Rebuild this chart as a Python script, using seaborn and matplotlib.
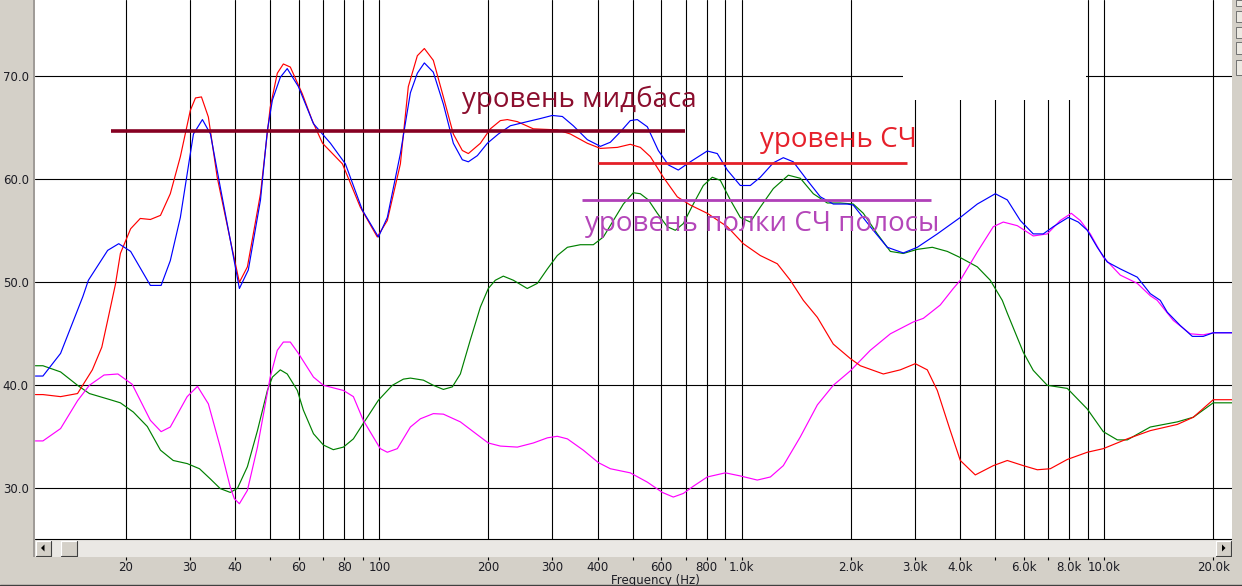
import numpy as np
import pandas as pd
import matplotlib
matplotlib.use("Agg")
import matplotlib.pyplot as plt
from matplotlib.patches import Rectangle, Polygon
from matplotlib.lines import Line2D
from matplotlib.ticker import NullLocator
import seaborn as sns

# ---------------- data (frequency in Hz, level in dB) ----------------
blue_f = [11.25, 11.8, 13.2, 15.2, 15.75, 17.8, 19.1, 20.6, 23.35, 25.0, 26.5, 28.25, 30.1, 30.7, 32.5, 34.2,
          36.4, 38.8, 41.1, 43.5, 47.0, 49.1, 50.7, 53.3, 55.7, 59.8, 65.8, 73.3, 80.6, 89.8, 99.4, 105.2,
          114.3, 121.8, 127.3, 133.1, 140.9, 150.2, 160, 169.4, 176, 186.4, 198.6, 213, 229.8, 255.9, 278,
          300, 319.8, 342.8, 374.8, 407.3, 433.8, 462.2, 492.4, 514.8, 548.7, 588.3, 627, 668, 721, 803,
          855.7, 912, 990.6, 1055.5, 1124.6, 1221.6, 1301.6, 1386.8, 1516, 1647, 1788, 1954, 2030, 2262,
          2520, 2790, 3049, 3462, 4007, 4464, 5004, 5401, 5866, 6369, 6787, 7233, 7956, 8478, 8977, 9565,
          10193, 11070, 12331, 13394, 14272, 14920, 16209, 17494, 18750, 19980, 22500]
blue_db = [40.9, 40.9, 43.1, 48.6, 50.2, 53.1, 53.75, 53.0, 49.7, 49.7, 52.1, 56.3, 62.5, 64.4, 65.8, 64.4,
           59.25, 54.1, 49.4, 51.2, 58.0, 64.75, 67.7, 69.9, 70.75, 69.0, 65.4, 63.5, 61.5, 57.0, 54.4, 56.3,
           62.5, 68.4, 70.3, 71.3, 70.4, 67.3, 63.5, 61.9, 61.7, 62.3, 63.5, 64.4, 65.2, 65.6, 65.9,
           66.2, 66.1, 65.2, 63.85, 63.2, 63.6, 64.6, 65.7, 65.8, 65.1, 62.8, 61.4, 60.9, 61.7, 62.75,
           62.5, 60.9, 59.4, 59.4, 60.2, 61.6, 62.1, 61.7, 59.9, 58.3, 57.6, 57.6, 57.5, 55.4,
           53.4, 52.85, 53.4, 54.7, 56.3, 57.6, 58.6, 58.0, 56.0, 54.7, 54.7, 55.4, 56.3, 55.85, 55.05, 53.4,
           51.97, 51.3, 50.5, 48.9, 48.25, 47.1, 45.8, 44.75, 44.75, 45.1, 45.1]

red_f = [11.25, 11.8, 13.2, 14.7, 16.15, 17.15, 17.8, 18.7, 19.3, 20.6, 21.9, 23.35, 24.9, 26.5, 28.25, 30.1,
         31.1, 32.3, 33.75, 35.7, 38.8, 41.1, 43.25, 47.0, 50.0, 52.3, 54.35, 56.8, 61.3, 65.3, 69.7, 79.1,
         88.6, 98.7, 105.2, 114.3, 120.2, 127.3, 133.1, 140.9, 150.2, 160, 169.4, 176, 190, 202.4, 215.7,
         225.5, 240.3, 266, 309.7, 336.5, 374.8, 407.3, 453.5, 492.4, 524.8, 559.4, 607.5, 663.7, 721, 803,
         912, 1009.6, 1124.6, 1253, 1360.8, 1478, 1616, 1788, 1992, 2123, 2457, 2736, 3010, 3249, 3462,
         3760, 4007, 4407, 4941, 5401, 5980, 6536, 7096, 7906, 8977, 9937, 11573, 13394, 15902, 17604,
         19980, 22500]
red_db = [39.1, 39.1, 38.9, 39.2, 41.5, 43.7, 46.3, 49.8, 52.8, 55.2, 56.2, 56.1, 56.5, 58.6, 62.2, 66.7,
          67.9, 68.0, 66.05, 60.2, 54.1, 50.0, 51.5, 58.6, 67.0, 70.3, 71.2, 70.9, 68.3, 65.7, 63.5, 61.5,
          57.3, 54.4, 56.0, 61.5, 69.0, 72.0, 72.7, 71.55, 68.0, 64.4, 62.8, 62.5, 63.5, 64.9, 65.7,
          65.8, 65.6, 64.9, 64.8, 64.4, 63.5, 63.0, 63.1, 63.4, 63.1, 62.2, 60.2, 58.3, 57.5, 56.7,
          55.4, 53.75, 52.6, 51.8, 50.2, 48.25, 46.6, 44.0, 42.6, 41.9, 41.1, 41.5, 42.1, 41.5, 39.5,
          35.6, 32.7, 31.3, 32.2, 32.7, 32.2, 31.8, 31.9, 32.8, 33.5, 33.85, 34.8, 35.6, 36.2, 36.9,
          38.6, 38.6]

green_f = [11.25, 11.8, 13.2, 14.7, 15.85, 18.1, 19.3, 20.96, 22.9, 24.9, 27.0, 29.5, 31.9, 34.2, 36.4, 38.8,
           40.6, 43.25, 46.1, 49.1, 50.7, 53.3, 55.7, 59.4, 61.7, 65.8, 70.1, 74.65, 79.6, 84.8, 90.3, 99.4,
           108.6, 116.5, 121.8, 132.3, 140.9, 150.2, 159, 167.3, 178.2, 190, 199.8, 208.9, 219.8, 234.3,
           255.9, 272.9, 290.8, 309.7, 330.2, 358.5, 389.4, 415, 442.2, 471.2, 502, 524.8, 552.3, 584.8,
           623, 655.5, 689.6, 734.9, 783.1, 829, 872.4, 929.6, 990.6, 1055.5, 1124.6, 1221.6, 1344,
           1450.5, 1575, 1721.5, 1869, 2030, 2164, 2365, 2569, 2790, 3049, 3354, 3689, 4007, 4464, 4847,
           5231, 5401, 5980, 6369, 6962, 7906, 8977, 9937, 10864, 11573, 13394, 15902, 17604, 19980, 22500]
green_db = [41.9, 41.9, 41.3, 40.0, 39.2, 38.6, 38.3, 37.4, 36.0, 33.7, 32.7, 32.4, 31.9, 30.9, 29.97, 29.6,
            30.0, 32.1, 35.6, 39.5, 40.8, 41.5, 41.1, 39.5, 37.6, 35.3, 34.2, 33.75, 34.0, 34.8, 36.3, 38.55,
            40.0, 40.6, 40.7, 40.5, 40.0, 39.6, 39.85, 41.1, 44.4, 47.6, 49.4, 50.2, 50.6, 50.2,
            49.4, 49.9, 51.3, 52.6, 53.4, 53.65, 53.65, 54.4, 56.0, 57.6, 58.7, 58.6, 58.0, 56.7,
            55.4, 55.05, 55.7, 57.6, 59.4, 60.2, 59.9, 58.0, 56.3, 55.85, 57.3, 59.1, 60.4,
            60.1, 58.6, 57.7, 57.7, 57.6, 56.7, 54.7, 53.0, 52.8, 53.2, 53.4, 53.0, 52.4, 51.5, 50.2,
            48.25, 47.0, 43.2, 41.45, 40.0, 39.7, 37.7, 35.5, 34.7, 34.7, 35.95, 36.45, 36.9, 38.3, 38.3]

magenta_f = [11.25, 11.8, 13.2, 14.7, 15.85, 17.4, 19.0, 20.8, 23.35, 25.0, 26.5, 29.5, 31.5, 33.75, 36.4,
             38.8, 39.8, 41.1, 43.25, 46.1, 50.0, 52.3, 54.35, 56.8, 59.8, 65.8, 70.1, 79.6, 84.8, 90.3,
             100.6, 105.2, 112.1, 121.8, 129.8, 140.9, 150.2, 167.3, 181.6, 199.8, 215.7, 240.3, 266,
             290.8, 309.7, 330.2, 365.4, 401.8, 433.8, 492.4, 548.7, 603.6, 647.1, 689.6, 734.9, 803,
             900.6, 990.6, 1103.4, 1199, 1301.6, 1450.5, 1616, 1788, 1992, 2262, 2569, 2972, 3168, 3528,
             3832, 4007, 4464, 4941, 5265, 5754, 6369, 6962, 7559, 8110, 8587, 9150, 9937, 11070, 12331,
             13394, 14000, 15500, 17270, 18750, 19980, 22500]
magenta_db = [34.6, 34.6, 35.8, 38.5, 40.0, 41.0, 41.1, 40.1, 36.6, 35.5, 35.95, 38.9, 39.9, 38.2, 34.0,
              30.1, 29.0, 28.5, 29.8, 34.0, 40.8, 43.4, 44.2, 44.2, 43.1, 40.8, 40.0, 39.5, 38.9, 36.6,
              33.85, 33.5, 33.85, 35.95, 36.75, 37.25, 37.2, 36.45, 35.5, 34.4, 34.1, 34.0, 34.4,
              34.9, 35.05, 34.8, 33.7, 32.5, 31.9, 31.5, 30.6, 29.6, 29.15, 29.5, 30.2, 31.1,
              31.5, 31.2, 30.8, 31.1, 32.2, 35.0, 38.1, 40.0, 41.4, 43.4, 45.0, 46.15, 46.5, 47.8,
              49.4, 50.2, 52.95, 55.4, 55.85, 55.5, 54.5, 54.7, 56.0, 56.7, 56.0, 54.7, 52.45, 50.7, 49.9,
              48.7, 48.25, 46.3, 45.0, 44.9, 45.1, 45.1]

grid_freqs = [20, 30, 40, 50, 60, 70, 80, 90, 100, 200, 300, 400, 500, 600, 700, 800, 900,
              1000, 2000, 3000, 4000, 5000, 6000, 7000, 8000, 9000, 10000, 20000]
grid_labels = ['20', '30', '40', '', '60', '', '80', '', '100', '200', '300', '400', '', '600', '', '800', '',
               '1.0k', '2.0k', '3.0k', '4.0k', '', '6.0k', '', '8.0k', '', '10.0k', '20.0k']
y_ticks = [30, 40, 50, 60, 70]
y_labels = ['30.0', '40.0', '50.0', '60.0', '70.0']

# annotation levels (dB) and spans (Hz)
midbass_level, midbass_span, midbass_text = 64.69, (18.2, 698), 'уровень мидбаса'
hf_level, hf_span, hf_text = 61.62, (402, 2861), 'уровень СЧ'
shelf_level, shelf_span, shelf_text = 57.97, (363, 3333), 'уровень полки СЧ полосы'
midbass_text_pos = (169.4, 67.02)
hf_text_pos = (1124.6, 63.14)
shelf_text_pos = (370, 54.96)

# ---------------- figure ----------------
sns.set_style("white")
plt.rcParams['font.family'] = ['DejaVu Sans']

W, H = 1242, 586
GRAY = '#d4d0c8'
fig = plt.figure(figsize=(W / 100, H / 100), dpi=100, facecolor=GRAY)
AX_L, AX_R, AX_B = 35, 1232, 557
ax = fig.add_axes([AX_L / W, (H - AX_B) / H, (AX_R - AX_L) / W, AX_B / H])
ax.set_facecolor('white')

def fx(px):
    return (px - AX_L) / (AX_R - AX_L)

def fy(py):
    return (AX_B - py) / AX_B

frames = []
for name, f, d in [('green', green_f, green_db), ('magenta', magenta_f, magenta_db),
                   ('red', red_f, red_db), ('blue', blue_f, blue_db)]:
    frames.append(pd.DataFrame({'freq': f, 'db': d, 'curve': name}))
df = pd.concat(frames, ignore_index=True)

palette = {'green': '#008000', 'magenta': '#ff00ff', 'red': '#ff0000', 'blue': '#0000ff'}
sns.lineplot(data=df, x='freq', y='db', hue='curve', hue_order=['green', 'magenta', 'red', 'blue'],
             palette=palette, estimator=None, sort=False, legend=False, linewidth=0.85, ax=ax, zorder=2)

ax.set_xscale('log')
ax.set_xlim(11.22, 22510)
ax.set_ylim(23.33, 77.41)
ax.xaxis.set_minor_locator(NullLocator())
ax.set_xticks(grid_freqs)
ax.set_xticklabels(grid_labels)
ax.set_yticks(y_ticks)
ax.set_yticklabels(y_labels)
ax.set_axisbelow(True)
ax.grid(True, which='major', color='black', linewidth=0.8)
for s in ax.spines.values():
    s.set_visible(False)
ax.tick_params(axis='x', which='major', bottom=True, length=2.3, width=0.8, color='black',
               pad=0.8, labelsize=8.5, labelcolor='#1c1c24')
ax.tick_params(axis='y', which='major', left=True, length=0, pad=4.5, labelsize=8.5, labelcolor='#1c1c24')
ax.set_xlabel('Frequency (Hz)', fontsize=8.5, color='#1c1c24')
ax.xaxis.set_label_coords(fx(655), fy(574))
ax.set_ylabel('')

# blanked upper area (as in the screenshot)
ax.add_patch(Rectangle((fx(903), fy(100)), fx(1086) - fx(903), 1 - fy(100), transform=ax.transAxes,
                       facecolor='white', edgecolor='none', zorder=1))

# annotation lines and texts
ax.plot(midbass_span, [midbass_level] * 2, color='#860022', lw=2.6, solid_capstyle='butt', zorder=5)
ax.plot(hf_span, [hf_level] * 2, color='#e42028', lw=2.0, solid_capstyle='butt', zorder=5)
ax.plot(shelf_span, [shelf_level] * 2, color='#b040b8', lw=2.0, solid_capstyle='butt', zorder=5)
ax.text(*midbass_text_pos, midbass_text, color='#8b0d2d', fontsize=20, family='Open Sans',
        va='baseline', ha='left', zorder=6)
ax.text(*hf_text_pos, hf_text, color='#e6202b', fontsize=20, family='Open Sans',
        va='baseline', ha='left', zorder=6)
ax.text(*shelf_text_pos, shelf_text, color='#b446b9', fontsize=20, family='Open Sans',
        va='baseline', ha='left', zorder=6)

# scrollbar at the bottom of the plot
ax.add_patch(Rectangle((0, 0), 1, fy(539), transform=ax.transAxes, facecolor='#eae8e4',
                       edgecolor='none', zorder=7))
ax.add_line(Line2D([0, 1], [fy(539), fy(539)], transform=ax.transAxes, color='black', lw=0.8, zorder=8))

def button(x0, x1, y0, y1):
    ax.add_patch(Rectangle((fx(x0), fy(y1)), fx(x1) - fx(x0), fy(y0) - fy(y1), transform=ax.transAxes,
                           facecolor=GRAY, edgecolor='none', zorder=8))
    ax.add_line(Line2D([fx(x0), fx(x0), fx(x1)], [fy(y1), fy(y0), fy(y0)], transform=ax.transAxes,
                       color='white', lw=0.8, zorder=9))
    ax.add_line(Line2D([fx(x0), fx(x1), fx(x1)], [fy(y1), fy(y1), fy(y0)], transform=ax.transAxes,
                       color='#404040', lw=0.8, zorder=9))

button(35.5, 50.5, 540.5, 556)
button(61, 76.5, 540.5, 556)
button(1216, 1230.5, 540.5, 556)
ax.add_patch(Polygon([(fx(41), fy(548)), (fx(44.5), fy(544.5)), (fx(44.5), fy(551.5))],
                     transform=ax.transAxes, closed=True, facecolor='black', edgecolor='none', zorder=10))
ax.add_patch(Polygon([(fx(1225.5), fy(548)), (fx(1222), fy(544.5)), (fx(1222), fy(551.5))],
                     transform=ax.transAxes, closed=True, facecolor='black', edgecolor='none', zorder=10))

# window chrome outside the axes
fig.add_artist(Rectangle((33 / W, (H - AX_B) / H), 2 / W, AX_B / H, transform=fig.transFigure,
                         facecolor='#a09c98', edgecolor='none'))
for y0, y1 in [(0, 6), (11, 22), (27, 38), (42, 54), (60, 75)]:
    fig.add_artist(Rectangle((1236 / W, (H - y1) / H), 6 / W, (y1 - y0) / H, transform=fig.transFigure,
                             facecolor='#ece9e2', edgecolor='#606060', linewidth=0.6))
fig.add_artist(Line2D([0, 1], [1.5 / H, 1.5 / H], transform=fig.transFigure, color='#404040', lw=1.0))

fig.savefig('out.png', dpi=100, facecolor=GRAY)
